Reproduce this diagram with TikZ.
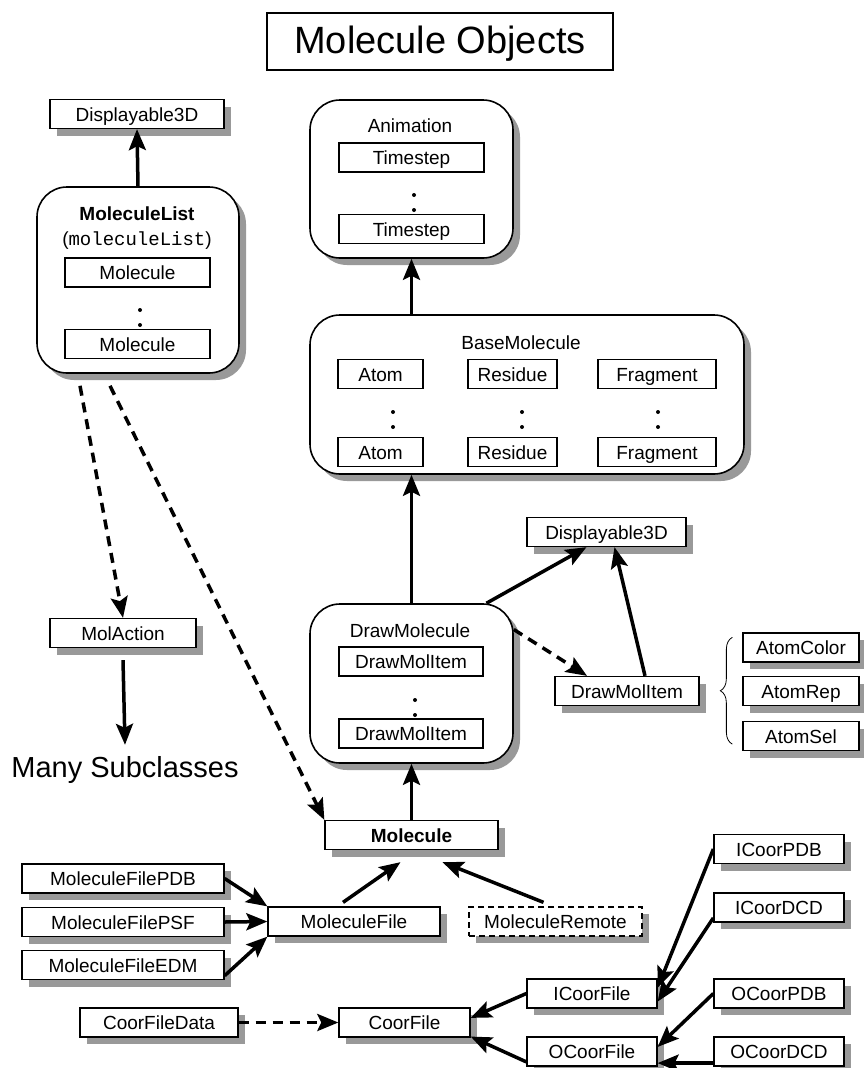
\documentclass[tikz,border=0pt]{standalone}
\usepackage{fontspec}
\setmainfont{Liberation Sans}
\setmonofont{Liberation Mono}
\usetikzlibrary{arrows.meta,shadows,decorations.pathreplacing}

\newcommand{\boxfont}{\fontsize{19}{22}\selectfont}

\begin{document}
\begin{tikzpicture}[
  x=1pt, y=-1pt,
  innerbox/.style={
    draw,
    fill=white,
    line width=1.3pt,
    inner sep=0pt,
    minimum height=29pt,
    text height=16pt,
    text depth=1.5pt,
    font=\boxfont
  },
  shadowed/.style={
    general shadow={fill=black!40, shadow xshift=7pt, shadow yshift=-7pt}
  },
  objbox/.style={innerbox, shadowed},
  groupbox/.style={
    draw,
    fill=white,
    line width=1.6pt,
    rounded corners=30pt,
    inner sep=0pt,
    shadowed
  },
  grouptitle/.style={font=\boxfont, inner sep=0pt, text height=16pt, text depth=1.5pt},
  isa/.style={line width=3.5pt, -{Stealth[length=21pt,width=17pt,inset=4pt]}},
  uses/.style={isa, dash pattern=on 10pt off 7pt}
]
\useasboundingbox (0,0) rectangle (864,1068);

\node[draw, line width=2pt, minimum width=346pt, minimum height=57pt, inner sep=0pt,
  text height=27pt, text depth=4pt, font=\fontsize{38}{44}\selectfont] (title) at (440,41.5) {Molecule Objects};

% molecule list
\node[objbox, minimum width=174pt] (disptop) at (137,114) {Displayable3D};
\node[groupbox, minimum width=202pt, minimum height=186pt] (mollist) at (138,280) {};
\node[grouptitle, font=\boxfont\bfseries] (mollistname) at (137,213) {MoleculeList};
\node[grouptitle] (mollistvar) at (137,238) {(\texttt{moleculeList})};
\node[innerbox, minimum width=145pt] (mlmolA) at (137.5,272.5) {Molecule};
\node[innerbox, minimum width=145pt] (mlmolB) at (137.5,344) {Molecule};
\node[objbox, minimum width=146pt] (molaction) at (123,633) {MolAction};
\node[font=\fontsize{29}{34}\selectfont, inner sep=0pt, anchor=base] (many) at (125,777) {Many Subclasses};

% animation
\node[groupbox, minimum width=203pt, minimum height=158pt] (anim) at (411.5,179) {};
\node[grouptitle] (animname) at (410,125) {Animation};
\node[innerbox, minimum width=145pt] (tsA) at (411.5,157.5) {Timestep};
\node[innerbox, minimum width=145pt] (tsB) at (411.5,229) {Timestep};

% base molecule
\node[groupbox, minimum width=434pt, minimum height=159pt] (basemol) at (527,394.5) {};
\node[grouptitle] (basemolname) at (521,342) {BaseMolecule};
\node[innerbox, minimum width=85pt] (atomA) at (380.5,374) {Atom};
\node[innerbox, minimum width=85pt] (atomB) at (380.5,452) {Atom};
\node[innerbox, minimum width=89pt] (resA) at (512.5,374) {Residue};
\node[innerbox, minimum width=89pt] (resB) at (512.5,452) {Residue};
\node[innerbox, minimum width=118pt] (fragA) at (657,374) {Fragment};
\node[innerbox, minimum width=118pt] (fragB) at (657,452) {Fragment};

% draw molecule
\node[groupbox, minimum width=203pt, minimum height=159pt] (drawmol) at (411.5,683.5) {};
\node[grouptitle] (drawmolname) at (410,630) {DrawMolecule};
\node[innerbox, minimum width=144pt] (dmiA) at (411,661.5) {DrawMolItem};
\node[innerbox, minimum width=144pt] (dmiB) at (411,733.5) {DrawMolItem};
\node[objbox, minimum width=159pt] (disp3d) at (606.5,532) {Displayable3D};
\node[objbox, minimum width=144pt] (itemright) at (627,691) {DrawMolItem};
\node[objbox, minimum width=116pt] (acolor) at (801,647.5) {AtomColor};
\node[objbox, minimum width=116pt] (arep) at (801,691) {AtomRep};
\node[objbox, minimum width=116pt] (asel) at (801,736) {AtomSel};

\foreach \x/\y in {140/310, 414/195, 393/412, 522/412, 658/412, 415/700}
  \fill (\x,\y) circle (2pt) (\x,\y+15) circle (2pt);

% molecule and files
\node[objbox, minimum width=173pt, font=\boxfont\bfseries] (molecule) at (411.5,835) {Molecule};
\node[objbox, minimum width=172pt] (molfile) at (354,921.5) {MoleculeFile};
\node[objbox, minimum width=202pt] (mfpdb) at (123,878.5) {MoleculeFilePDB};
\node[objbox, minimum width=202pt] (mfpsf) at (123,922) {MoleculeFilePSF};
\node[objbox, minimum width=202pt] (mfedm) at (123,965) {MoleculeFileEDM};
\node[objbox, minimum width=173pt, dash pattern=on 6pt off 4pt] (molremote) at (555.5,921.5) {MoleculeRemote};
\node[objbox, minimum width=158pt] (cfdata) at (159,1022.5) {CoorFileData};
\node[objbox, minimum width=131pt] (coorfile) at (404.5,1022.5) {CoorFile};
\node[objbox, minimum width=130pt] (icoor) at (592,993.5) {ICoorFile};
\node[objbox, minimum width=130pt] (ocoor) at (592,1051.5) {OCoorFile};
\node[objbox, minimum width=130pt] (icpdb) at (779,849) {ICoorPDB};
\node[objbox, minimum width=130pt] (icdcd) at (779,907.5) {ICoorDCD};
\node[objbox, minimum width=130pt] (ocpdb) at (779,993.5) {OCoorPDB};
\node[objbox, minimum width=130pt] (ocdcd) at (779,1051.5) {OCoorDCD};

\draw[decorate, decoration={brace, amplitude=12pt}, line width=0.8pt]
  ([shift={(-10pt,7pt)}]asel.south west) -- ([shift={(-10pt,-5pt)}]acolor.north west);

\draw[isa] (mollist.north) -- (disptop.south);
\draw[isa] (anim.south |- basemol.north) -- (anim.south);
\draw[isa] (drawmol.north) -- (drawmol.north |- basemol.south);
\draw[isa] (molecule.north) -- (drawmol.south);
\draw[isa] ([xshift=75pt]drawmol.north) -- ([xshift=-20pt]disp3d.south);
\draw[isa] ([xshift=18pt]itemright.north) -- ([xshift=8pt]disp3d.south);
\draw[uses] ([yshift=54pt]drawmol.east) -- ([xshift=-40pt]itemright.north);
\draw[uses] ([shift={(-58pt,-12pt)}]mollist.south) -- (molaction.north);
\draw[uses] ([shift={(-28pt,-12pt)}]mollist.south) -- (molecule.north west);
\draw[isa] ([yshift=-12pt]molaction.south) -- ([yshift=11pt]many.north);
\draw[isa] ([shift={(-11pt,4pt)}]molfile.north) -- ([shift={(-11pt,-12pt)}]molecule.south);
\draw[isa] ([shift={(-12pt,4pt)}]molremote.north) -- ([shift={(31pt,-12pt)}]molecule.south);
\draw[isa] (mfpdb.east) -- (molfile.north west);
\draw[isa] (mfpsf.east) -- (molfile.west);
\draw[isa] (mfedm.-6) -- (molfile.south west);
\draw[uses] (cfdata.east) -- (coorfile.west);
\draw[isa] (icoor.west) -- (coorfile.4);
\draw[isa] (ocoor.189) -- (coorfile.-12);
\draw[isa] (icpdb.west) -- (icoor.5);
\draw[isa] (icdcd.189) -- (icoor.-7);
\draw[isa] (ocpdb.west) -- (ocoor.4);
\draw[isa] (ocdcd.190) -- (ocoor.-10);
\end{tikzpicture}
\end{document}
